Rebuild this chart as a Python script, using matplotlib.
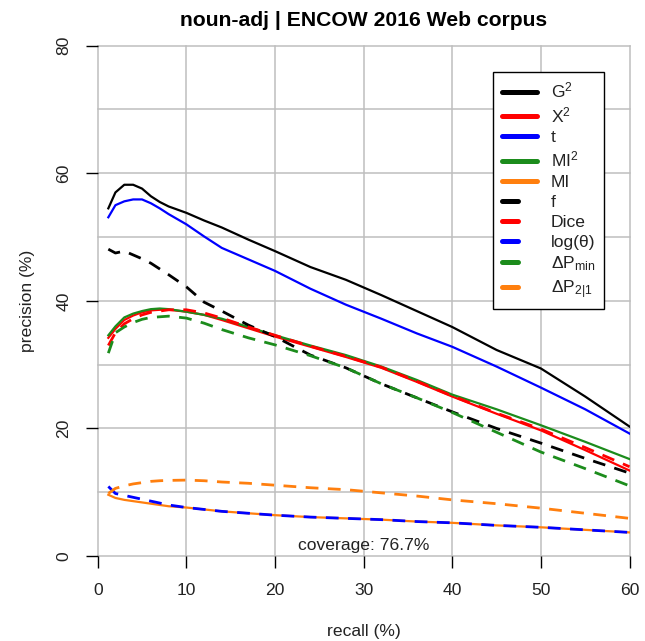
import matplotlib
matplotlib.use("Agg")
import matplotlib.pyplot as plt
from matplotlib.lines import Line2D

plt.rcParams['font.family'] = ['Liberation Sans', 'DejaVu Sans']
plt.rcParams['mathtext.fontset'] = 'custom'
plt.rcParams['mathtext.rm'] = 'Liberation Sans'
plt.rcParams['mathtext.it'] = 'Liberation Sans:italic'
plt.rcParams['mathtext.bf'] = 'Liberation Sans:bold'

# ---------------- data ----------------
recall = [1.2, 2, 3, 4, 5, 6, 7, 8, 10, 12, 14, 17, 20, 24, 28, 32, 36, 40, 45, 50, 55, 60]

G2   = [54.5, 57.0, 58.2, 58.2, 57.6, 56.4, 55.5, 54.8, 53.8, 52.6, 51.5, 49.6, 47.8, 45.3, 43.3, 40.9, 38.4, 35.9, 32.3, 29.4, 25.0, 20.3]
X2   = [34.2, 35.6, 37.0, 37.7, 38.2, 38.5, 38.6, 38.6, 38.3, 37.8, 37.0, 35.7, 34.4, 32.8, 31.2, 29.5, 27.3, 25.0, 22.3, 19.7, 16.6, 13.4]
t    = [53.1, 55.0, 55.6, 55.9, 55.9, 55.3, 54.5, 53.6, 52.0, 50.1, 48.3, 46.5, 44.7, 41.9, 39.4, 37.2, 34.9, 32.8, 29.7, 26.4, 23.0, 19.2]
MI2  = [34.6, 36.0, 37.4, 38.0, 38.4, 38.7, 38.8, 38.7, 38.3, 37.8, 37.2, 35.9, 34.6, 33.0, 31.5, 29.7, 27.6, 25.3, 23.0, 20.5, 17.9, 15.2]
MI   = [9.6, 9.1, 8.8, 8.6, 8.4, 8.2, 8.0, 7.8, 7.6, 7.3, 7.0, 6.7, 6.4, 6.1, 5.9, 5.7, 5.4, 5.2, 4.8, 4.5, 4.1, 3.7]
f    = [48.1, 47.5, 47.8, 47.2, 46.6, 45.9, 45.0, 44.1, 42.2, 39.8, 38.4, 36.2, 34.4, 31.5, 29.5, 27.0, 24.8, 22.6, 20.0, 17.7, 15.3, 13.0]
Dice = [33.0, 35.0, 36.4, 37.2, 37.8, 38.2, 38.4, 38.6, 38.6, 38.1, 37.3, 35.9, 34.6, 32.9, 31.3, 29.6, 27.4, 25.1, 22.4, 19.9, 17.0, 14.0]
logtheta = [10.9, 9.8, 9.5, 9.2, 8.9, 8.6, 8.3, 8.0, 7.6, 7.3, 7.0, 6.7, 6.4, 6.1, 5.9, 5.7, 5.4, 5.2, 4.8, 4.5, 4.1, 3.7]
dPmin = [31.8, 35.0, 35.9, 36.6, 37.1, 37.4, 37.5, 37.6, 37.3, 36.5, 35.5, 34.2, 33.1, 31.4, 29.5, 27.0, 24.8, 22.5, 19.4, 16.3, 13.7, 11.0]
dP21 = [9.8, 10.6, 11.0, 11.3, 11.5, 11.7, 11.8, 11.85, 11.9, 11.8, 11.6, 11.4, 11.1, 10.7, 10.4, 9.9, 9.4, 8.8, 8.2, 7.5, 6.7, 5.9]

labels = ["G$^2$", "X$^2$", "t", "MI$^2$", "MI", "f", "Dice", "log(\u03b8)",
          "\u0394P$_{\\mathrm{min}}$", "\u0394P$_{\\mathrm{2|1}}$"]
series = [G2, X2, t, MI2, MI, f, Dice, logtheta, dPmin, dP21]
colors = ["black", "#FF0000", "#0000FF", "#1C8C1C", "#FF7F0E",
          "black", "#FF0000", "#0000FF", "#1C8C1C", "#FF7F0E"]
dashed = [False] * 5 + [True] * 5

coverage_text = "coverage: 76.7%"
xticks = [0, 10, 20, 30, 40, 50, 60]
yticks = [0, 20, 40, 60, 80]
xgrid = [0, 10, 20, 30, 40, 50, 60]
ygrid = [0, 10, 20, 30, 40, 50, 60, 70, 80]

# ---------------- figure ----------------
W, H = 645, 641
fig = plt.figure(figsize=(W / 100, H / 100), dpi=100)
ax = fig.add_axes([97.7 / W, 1 - 556 / H, (629.5 - 97.7) / W, (556 - 45.7) / H])
ax.set_xlim(0, 60)
ax.set_ylim(0, 80)
for s in ax.spines.values():
    s.set_visible(False)

# grid
for gx in xgrid:
    ax.axvline(gx, color='#BEBEBE', lw=1.1, zorder=0, clip_on=False)
for gy in ygrid:
    ax.axhline(gy, color='#BEBEBE', lw=1.1, zorder=0, clip_on=False)

ax.set_xticks(xticks)
ax.set_yticks(yticks)
fs = 12.6
ax.tick_params(which='major', direction='out', length=8.6, width=1.0, color='black',
               labelsize=fs, labelcolor='#222222', pad=10.5)
for lab in ax.get_yticklabels():
    lab.set_rotation(90)
    lab.set_va('center')

handles = []
for ys, c, d, lab in zip(series, colors, dashed, labels):
    if d:
        ax.plot(recall, ys, color=c, lw=2.0, dashes=(4.6, 3.4), zorder=3)
        handles.append(Line2D([], [], color=c, lw=3.6, dashes=(3.2, 6),
                              dash_capstyle='round', label=lab))
    else:
        ax.plot(recall, ys, color=c, lw=1.6, zorder=2)
        handles.append(Line2D([], [], color=c, lw=3.6, solid_capstyle='round', label=lab))

ax.text(30, 1.6, coverage_text, ha='center', va='center', fontsize=fs, color='#222222')

ax.set_title("noun-adj | ENCOW 2016 Web corpus", fontsize=15.2, fontweight='bold', pad=14)
ax.set_xlabel("recall (%)", fontsize=fs, color='#222222', labelpad=19)
ax.set_ylabel("precision (%)", fontsize=fs, color='#222222', labelpad=15)

leg = ax.legend(handles=handles, loc='upper left',
                bbox_to_anchor=(493 / W, 1 - 72 / H), bbox_transform=fig.transFigure,
                borderaxespad=0, fontsize=fs, frameon=True, fancybox=False,
                edgecolor='black', framealpha=1, handlelength=2.0, handletextpad=0.8,
                labelspacing=0.27, borderpad=0.5)
leg.get_frame().set_linewidth(1.0)
leg.set_zorder(5)
for txt in leg.get_texts():
    txt.set_color('#222222')

fig.savefig("out.png", dpi=100)
